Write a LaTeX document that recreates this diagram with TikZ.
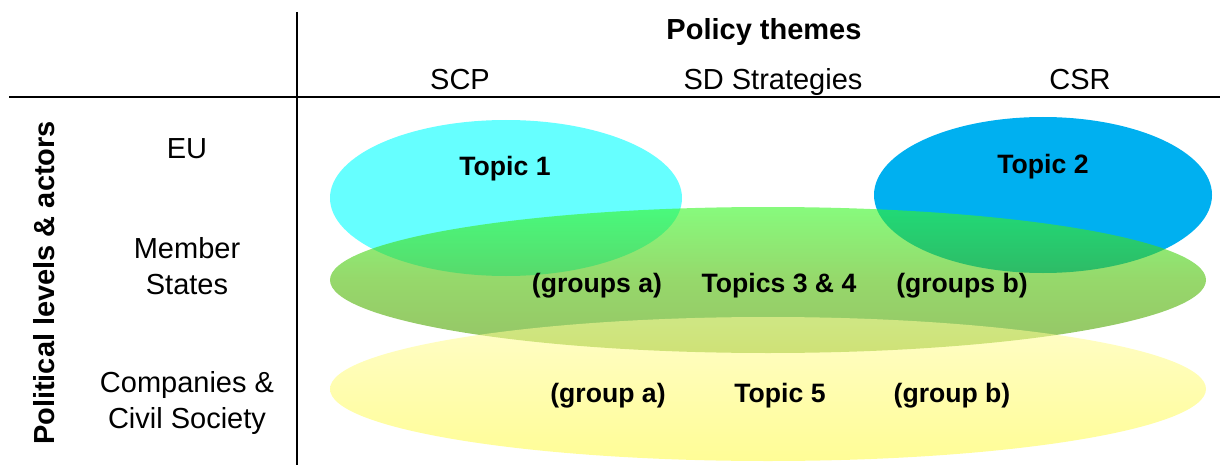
\documentclass[tikz,border=0pt]{standalone}
\usepackage{fontspec}
\setmainfont{Liberation Sans}
\usetikzlibrary{shapes.geometric,positioning}
\tikzset{every node/.style={font=\fontsize{14.5}{18}\selectfont}}
\tikzset{theme/.style={anchor=base}}
\tikzset{level/.style={align=center}}
\tikzset{topic/.style={anchor=base,font=\fontsize{13.3}{16}\selectfont\bfseries}}
\tikzset{blob/.style={ellipse,inner sep=0pt,draw=none}}
\tikzset{rule/.style={line width=1pt}}

\definecolor{eucyan}{RGB}{102,255,255}
\definecolor{csrblue}{RGB}{0,176,240}
\definecolor{greentop}{RGB}{55,247,38}
\definecolor{greenmid}{RGB}{80,190,8}
\definecolor{greenbot}{RGB}{80,155,0}
\definecolor{yellowtop}{RGB}{255,252,155}
\definecolor{yellowbot}{RGB}{255,252,64}

\begin{document}
\begin{tikzpicture}[x=0.5pt,y=-0.5pt]
\useasboundingbox (0,0) rectangle (1220,465);

% table frame
\coordinate (vtop) at (297,12);
\coordinate (vbot) at (297,465);
\coordinate (hleft) at (9,97);
\coordinate (hright) at (1220,97);
\draw[rule] (vtop) -- (vbot);
\draw[rule] (hleft) -- (hright);

% column heads
\node[theme,font=\fontsize{14.5}{18}\selectfont\bfseries] (themes) at (764,40) {Policy themes};
\node[theme] (scp) at (460,90) {SCP};
\node[theme] (sds) at (773,90) {SD Strategies};
\node[theme] (csr) at (1080,90) {CSR};

% row heads
\node[rotate=90,font=\fontsize{14.5}{18}\selectfont\bfseries] (levels) at (44,283) {Political levels \& actors};
\node[theme] (eu) at (187,158) {EU};
\node[level] (states) at (187,266) {Member\\States};
\node[level] (society) at (187,403) {Companies \&\\Civil Society};

% topic areas
\node[blob,fill=eucyan,minimum width=176pt,minimum height=78pt] (area1) at (506,198) {};
\node[blob,fill=csrblue,minimum width=169pt,minimum height=78pt] (area2) at (1043,195) {};
\node[blob,top color=greentop,bottom color=greenbot,middle color=greenmid,fill opacity=0.6,
      minimum width=438pt,minimum height=73pt] (area34) at (768,280) {};
\node[blob,top color=yellowtop,bottom color=yellowbot,fill opacity=0.55,
      minimum width=438pt,minimum height=72pt] (area5) at (768,389) {};

% topic labels
\node[topic] (topic1) at (505,176) {Topic 1};
\node[topic] (topic2) at (1043,173) {Topic 2};
\node[topic] (topic34) at (779,292) {Topics 3 \& 4};
\node[topic] (groupsa) at (597,292) {(groups a)};
\node[topic] (groupsb) at (962,292) {(groups b)};
\node[topic] (topic5) at (780,402) {Topic 5};
\node[topic] (groupa) at (608,402) {(group a)};
\node[topic] (groupb) at (952,402) {(group b)};

\end{tikzpicture}
\end{document}
